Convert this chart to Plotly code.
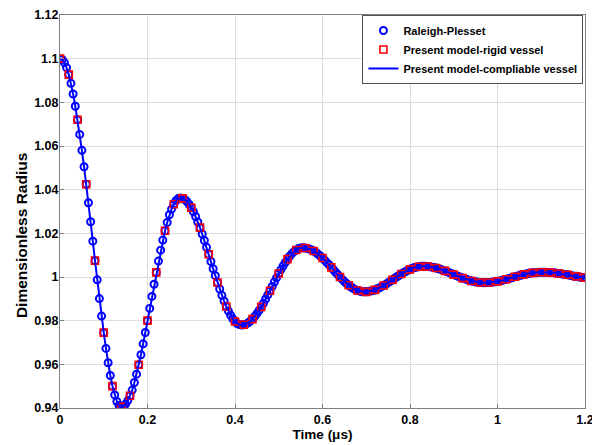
import plotly.graph_objects as go

# Raleigh-Plesset solution (blue circles) - also used for the compliable-vessel line
t_rp = [
    0.000, 0.005, 0.010, 0.015, 0.020, 0.025, 0.030, 0.035, 0.040, 0.045,
    0.050, 0.055, 0.060, 0.065, 0.070, 0.075, 0.080, 0.085, 0.090, 0.095,
    0.100, 0.105, 0.110, 0.115, 0.120, 0.125, 0.130, 0.135, 0.140, 0.145,
    0.150, 0.155, 0.160, 0.165, 0.170, 0.175, 0.180, 0.185, 0.190, 0.195,
    0.200, 0.205, 0.210, 0.215, 0.220, 0.225, 0.230, 0.235, 0.240, 0.245,
    0.250, 0.255, 0.260, 0.265, 0.270, 0.275, 0.280, 0.285, 0.290, 0.295,
    0.300, 0.305, 0.310, 0.315, 0.320, 0.325, 0.330, 0.335, 0.340, 0.345,
    0.350, 0.355, 0.360, 0.365, 0.370, 0.375, 0.380, 0.385, 0.390, 0.395,
    0.400, 0.405, 0.410, 0.415, 0.420, 0.425, 0.430, 0.435, 0.440, 0.445,
    0.450, 0.455, 0.460, 0.465, 0.470, 0.475, 0.480, 0.485, 0.490, 0.495,
    0.500, 0.505, 0.510, 0.515, 0.520, 0.525, 0.530, 0.535, 0.540, 0.545,
    0.550, 0.555, 0.560, 0.565, 0.570, 0.575, 0.580, 0.585, 0.590, 0.595,
    0.600, 0.605, 0.610, 0.615, 0.620, 0.625, 0.630, 0.635, 0.640, 0.645,
    0.650, 0.655, 0.660, 0.665, 0.670, 0.675, 0.680, 0.685, 0.690, 0.695,
    0.700, 0.705, 0.710, 0.715, 0.720, 0.725, 0.730, 0.735, 0.740, 0.745,
    0.750, 0.755, 0.760, 0.765, 0.770, 0.775, 0.780, 0.785, 0.790, 0.795,
    0.800, 0.805, 0.810, 0.815, 0.820, 0.825, 0.830, 0.835, 0.840, 0.845,
    0.850, 0.855, 0.860, 0.865, 0.870, 0.875, 0.880, 0.885, 0.890, 0.895,
    0.900, 0.905, 0.910, 0.915, 0.920, 0.925, 0.930, 0.935, 0.940, 0.945,
    0.950, 0.955, 0.960, 0.965, 0.970, 0.975, 0.980, 0.985, 0.990, 0.995,
    1.000, 1.005, 1.010, 1.015, 1.020, 1.025, 1.030, 1.035, 1.040, 1.045,
    1.050, 1.055, 1.060, 1.065, 1.070, 1.075, 1.080, 1.085, 1.090, 1.095,
    1.100, 1.105, 1.110, 1.115, 1.120, 1.125, 1.130, 1.135, 1.140, 1.145,
    1.150, 1.155, 1.160, 1.165, 1.170, 1.175, 1.180, 1.185, 1.190, 1.195,
    1.200,
]
r_rp = [
    1.1000, 1.0996, 1.0982, 1.0959, 1.0927, 1.0887, 1.0838, 1.0782, 1.0720, 1.0653,
    1.0580, 1.0505, 1.0425, 1.0340, 1.0253, 1.0164, 1.0075, 0.9987, 0.9901, 0.9821,
    0.9745, 0.9673, 0.9607, 0.9549, 0.9500, 0.9460, 0.9430, 0.9412, 0.9405, 0.9408,
    0.9418, 0.9434, 0.9456, 0.9482, 0.9517, 0.9555, 0.9598, 0.9644, 0.9694, 0.9746,
    0.9800, 0.9856, 0.9911, 0.9967, 1.0021, 1.0073, 1.0123, 1.0169, 1.0212, 1.0250,
    1.0285, 1.0311, 1.0333, 1.0349, 1.0359, 1.0362, 1.0360, 1.0355, 1.0346, 1.0333,
    1.0317, 1.0299, 1.0277, 1.0252, 1.0226, 1.0197, 1.0167, 1.0136, 1.0104, 1.0071,
    1.0038, 1.0006, 0.9975, 0.9945, 0.9916, 0.9890, 0.9865, 0.9844, 0.9825, 0.9809,
    0.9796, 0.9787, 0.9782, 0.9780, 0.9781, 0.9784, 0.9790, 0.9798, 0.9807, 0.9819,
    0.9832, 0.9847, 0.9863, 0.9880, 0.9899, 0.9918, 0.9937, 0.9957, 0.9977, 0.9996,
    1.0016, 1.0034, 1.0051, 1.0067, 1.0082, 1.0095, 1.0107, 1.0116, 1.0124, 1.0130,
    1.0133, 1.0134, 1.0133, 1.0131, 1.0128, 1.0124, 1.0119, 1.0112, 1.0104, 1.0096,
    1.0087, 1.0077, 1.0066, 1.0056, 1.0044, 1.0033, 1.0022, 1.0011, 1.0000, 0.9989,
    0.9979, 0.9970, 0.9962, 0.9954, 0.9948, 0.9942, 0.9938, 0.9935, 0.9933, 0.9932,
    0.9932, 0.9934, 0.9936, 0.9938, 0.9941, 0.9946, 0.9950, 0.9956, 0.9961, 0.9967,
    0.9974, 0.9980, 0.9987, 0.9994, 1.0001, 1.0007, 1.0014, 1.0020, 1.0025, 1.0031,
    1.0035, 1.0040, 1.0043, 1.0045, 1.0047, 1.0049, 1.0049, 1.0049, 1.0048, 1.0047,
    1.0045, 1.0043, 1.0041, 1.0038, 1.0035, 1.0031, 1.0028, 1.0024, 1.0020, 1.0016,
    1.0011, 1.0007, 1.0003, 0.9999, 0.9995, 0.9992, 0.9988, 0.9985, 0.9982, 0.9980,
    0.9978, 0.9976, 0.9975, 0.9974, 0.9974, 0.9974, 0.9975, 0.9976, 0.9977, 0.9978,
    0.9980, 0.9982, 0.9984, 0.9987, 0.9990, 0.9992, 0.9995, 0.9998, 1.0001, 1.0004,
    1.0007, 1.0009, 1.0012, 1.0014, 1.0016, 1.0018, 1.0019, 1.0020, 1.0021, 1.0022,
    1.0022, 1.0022, 1.0022, 1.0021, 1.0020, 1.0020, 1.0019, 1.0017, 1.0016, 1.0015,
    1.0013, 1.0011, 1.0010, 1.0008, 1.0006, 1.0004, 1.0003, 1.0001, 0.9999, 0.9998,
    0.9997,
]

# Present model - rigid vessel (red squares)
t_rigid = [
    0.00, 0.02, 0.04, 0.06, 0.08, 0.10, 0.12, 0.14, 0.16, 0.18,
    0.20, 0.22, 0.24, 0.26, 0.28, 0.30, 0.32, 0.34, 0.36, 0.38,
    0.40, 0.42, 0.44, 0.46, 0.48, 0.50, 0.52, 0.54, 0.56, 0.58,
    0.60, 0.62, 0.64, 0.66, 0.68, 0.70, 0.72, 0.74, 0.76, 0.78,
    0.80, 0.82, 0.84, 0.86, 0.88, 0.90, 0.92, 0.94, 0.96, 0.98,
    1.00, 1.02, 1.04, 1.06, 1.08, 1.10, 1.12, 1.14, 1.16, 1.18,
    1.20,
]
r_rigid = [
    1.1000, 1.0927, 1.0720, 1.0425, 1.0075, 0.9745, 0.9500, 0.9405, 0.9456, 0.9598,
    0.9800, 1.0021, 1.0212, 1.0333, 1.0360, 1.0317, 1.0226, 1.0104, 0.9975, 0.9865,
    0.9796, 0.9781, 0.9807, 0.9863, 0.9937, 1.0016, 1.0082, 1.0124, 1.0133, 1.0119,
    1.0087, 1.0044, 1.0000, 0.9962, 0.9938, 0.9932, 0.9941, 0.9961, 0.9987, 1.0014,
    1.0035, 1.0047, 1.0048, 1.0041, 1.0028, 1.0011, 0.9995, 0.9982, 0.9975, 0.9975,
    0.9980, 0.9990, 1.0001, 1.0012, 1.0019, 1.0022, 1.0020, 1.0016, 1.0010, 1.0003,
    0.9997,
]

x_tickvals = [0, 0.2, 0.4, 0.6, 0.8, 1.0, 1.2]
x_ticktext = ["0", "0.2", "0.4", "0.6", "0.8", "1", "1.2"]
y_tickvals = [0.94, 0.96, 0.98, 1.00, 1.02, 1.04, 1.06, 1.08, 1.10, 1.12]
y_ticktext = ["0.94", "0.96", "0.98", "1", "1.02", "1.04", "1.06", "1.08", "1.1", "1.12"]

FAM = "Arial, Liberation Sans, sans-serif"
tick_font = dict(family=FAM, size=12.5, color="black", weight="bold")
xtitle_font = dict(family=FAM, size=13.5, color="black", weight="bold")
ytitle_font = dict(family=FAM, size=15.5, color="black", weight="bold")
legend_font = dict(family=FAM, size=11, color="black", weight="bold")

fig = go.Figure()
fig.add_trace(go.Scatter(
    x=t_rp, y=r_rp, mode="markers", name="Raleigh-Plesset",
    marker=dict(symbol="circle-open", size=7, color="#0000ff",
                line=dict(width=2, color="#0000ff")),
))
fig.add_trace(go.Scatter(
    x=t_rigid, y=r_rigid, mode="markers", name="Present model-rigid vessel",
    marker=dict(symbol="square-open", size=7, color="#ff0000",
                line=dict(width=1.6, color="#ff0000")),
))
fig.add_trace(go.Scatter(
    x=t_rp, y=r_rp, mode="lines", name="Present model-compliable vessel",
    line=dict(color="#0000ff", width=2),
))

axis_common = dict(
    showgrid=True, gridcolor="#dcdcdc", gridwidth=1,
    showline=True, linecolor="#808080", linewidth=1, mirror=True,
    ticks="inside", ticklen=4, tickcolor="#808080",
    zeroline=False, tickfont=tick_font, automargin=False,
)

fig.update_layout(
    width=592, height=437,
    margin=dict(l=52, r=15, t=7, b=37),
    paper_bgcolor="white", plot_bgcolor="white",
    xaxis=dict(range=[0, 1.2], tickvals=x_tickvals, ticktext=x_ticktext,
               title=dict(text="Time (\u03bcs)", font=xtitle_font, standoff=1),
               **axis_common),
    yaxis=dict(range=[0.94, 1.12], tickvals=y_tickvals, ticktext=y_ticktext,
               ticklabelstandoff=-2, **axis_common),
    legend=dict(x=0.997, y=1.0, xanchor="right", yanchor="top",
                bgcolor="white", bordercolor="#505050", borderwidth=1,
                font=legend_font, tracegroupgap=0, itemwidth=30),
    showlegend=True,
    annotations=[dict(
        text="Dimensionless Radius", textangle=-90, showarrow=False,
        xref="paper", yref="paper", x=-0.0743, y=0.44,
        xanchor="center", yanchor="middle", font=ytitle_font,
    )],
)

fig.write_html("out.html")
